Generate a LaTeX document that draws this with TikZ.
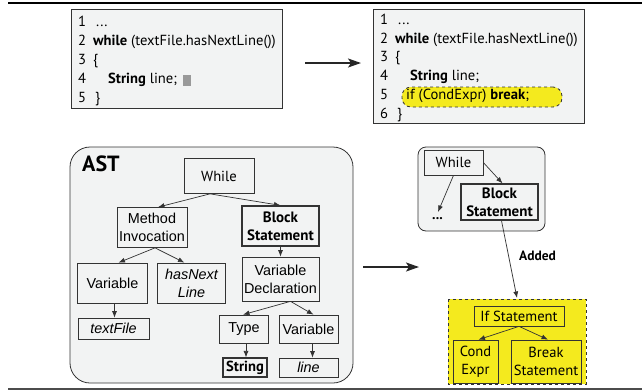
\documentclass[tikz,border=0pt]{standalone}
\usepackage{fontspec}
\setmainfont{PT Sans}
\newfontfamily\arialf{Liberation Sans}
\usetikzlibrary{arrows.meta}
\definecolor{panel}{HTML}{F2F3F3}
\definecolor{edge}{HTML}{333333}
\definecolor{hl}{HTML}{F4EA1E}
\tikzset{
  codebox/.style={draw=edge, fill=panel, line width=0.8pt},
  codeline/.style={anchor=base west, inner sep=0pt, font=\fontsize{14.6}{17}\selectfont},
  lnum/.style={anchor=base west, inner sep=0pt, font=\fontsize{14.6}{17}\selectfont},
  tnode/.style={draw=edge, fill=panel, line width=0.7pt, inner sep=0pt, align=center,
    font=\arialf\fontsize{14.4}{17.7}\selectfont},
  inode/.style={tnode, font=\arialf\itshape\fontsize{14.4}{17.7}\selectfont},
  mnode/.style={tnode, font=\fontsize{14.6}{17.7}\selectfont},
  bnode/.style={tnode, line width=1.2pt, font=\bfseries\fontsize{15}{17.7}\selectfont},
  ynode/.style={draw=edge, fill=hl, line width=0.7pt, inner sep=0pt, align=center,
    font=\fontsize{14.6}{17.7}\selectfont},
  tarrow/.style={draw=edge, line width=0.7pt, -{Latex[length=6.5pt,width=5pt]}},
  bigarrow/.style={draw=black!85, line width=1.8pt, -{Stealth[length=13pt,width=9pt,inset=3pt]}},
}
\begin{document}
\begin{tikzpicture}[x=1pt,y=-1pt]
\useasboundingbox (0,0) rectangle (642,391);

% rules above and below
\draw[black, line width=1.1pt] (8,3) -- (642,3);
\draw[black!70, line width=1.4pt] (8,389) -- (642,389);

% ---------- source before the edit ----------
\draw[codebox] (71,9) rectangle (282,108);
\foreach \n/\y in {1/26.5,2/45.5,3/64.5,4/83.5,5/102.5}
  \node[lnum] (la\n) at (78,\y) {\n};
\node[codeline] (ca1) at (96,26.5) {...};
\node[codeline] (ca2) at (93,45.5) {\textbf{while} (textFile.hasNextLine())};
\node[codeline] (ca3) at (93,64.5) {\{};
\node[codeline] (ca4) at (108,83.5) {\textbf{String} line;};
\node[codeline] (ca5) at (95,102.5) {\}};
\fill[black!40] ([xshift=6pt,yshift=-2pt]ca4.base east) rectangle ++(7.5,-10.5);

% ---------- source after the edit ----------
\draw[codebox] (373,9) rectangle (584,123);
\node[draw=edge, dashed, fill=hl, line width=0.8pt, rounded corners=9pt,
      minimum width=160pt, minimum height=20pt] (hlbox) at (482,97) {};
\foreach \n/\y in {1/24.5,2/43.2,3/61.9,4/80.6,5/99.8,6/118}
  \node[lnum] (lb\n) at (380,\y) {\n};
\node[codeline] (cb1) at (398,24.5) {...};
\node[codeline] (cb2) at (395,43.2) {\textbf{while} (textFile.hasNextLine())};
\node[codeline] (cb3) at (395,61.9) {\{};
\node[codeline] (cb4) at (410,80.6) {\textbf{String} line;};
\node[codeline] (cb5) at (406,99.8) {if (CondExpr) \textbf{break};};
\node[codeline] (cb6) at (397,118) {\}};

\coordinate (a1s) at (305,63);
\coordinate (a1e) at (361,63);
\draw[bigarrow] (a1s) -- (a1e);

% ---------- the full tree ----------
\draw[codebox, rounded corners=20pt] (70,147) rectangle (353,383);
\node[anchor=base west, inner sep=0pt, font=\bfseries\fontsize{22}{24}\selectfont] (astlbl) at (82,171.5) {AST};

\node[mnode, minimum width=70pt, minimum height=35pt] (while) at (219,176) {While};
\node[tnode, minimum width=70pt, minimum height=40pt] (minv) at (152,227.5) {Method\\Invocation};
\node[bnode, minimum width=77pt, minimum height=40pt] (block) at (280.5,226) {Block\\Statement};
\node[tnode, minimum width=70pt, minimum height=40pt] (var1) at (112.5,283) {Variable};
\node[inode, minimum width=68pt, minimum height=40pt] (hasn) at (191.5,283) {hasNext\\Line};
\node[inode, minimum width=71pt, minimum height=21pt] (tfile) at (113.5,328.5) {textFile};
\node[tnode, minimum width=77pt, minimum height=44pt] (vdecl) at (280.5,279) {Variable\\Declaration};
\node[tnode, minimum width=49pt, minimum height=28pt] (type) at (244,329) {Type};
\node[tnode, minimum width=59pt, minimum height=28pt] (var2) at (308.5,329) {Variable};
\node[tnode, minimum width=44pt, minimum height=19pt, line width=1.2pt, font=\bfseries\fontsize{14.6}{17}\selectfont] (str) at (245,367.5) {String};
\node[inode, minimum width=59pt, minimum height=19pt] (lnode) at (308.5,367.5) {line};

\draw[tarrow] ([xshift=-9pt]while.south) -- ([xshift=6pt]minv.north);
\draw[tarrow] ([xshift=-9pt]while.south) -- (block.north);
\draw[tarrow] ([xshift=3pt]minv.south) -- ([xshift=6pt]var1.north);
\draw[tarrow] ([xshift=3pt]minv.south) -- ([xshift=-7pt]hasn.north);
\draw[tarrow] (block.south) -- (vdecl.north);
\draw[tarrow] ([xshift=10pt]vdecl.south) -- ([xshift=-1pt]type.north);
\draw[tarrow] ([xshift=10pt]vdecl.south) -- ([xshift=5pt]var2.north);
\draw[tarrow] ([xshift=2pt]var1.south) -- ([xshift=1pt]tfile.north);
\draw[tarrow] ([xshift=2pt]type.south) -- ([xshift=1pt]str.north);
\draw[tarrow] ([xshift=4pt]var2.south) -- ([xshift=4pt]lnode.north);

\coordinate (a2s) at (363,267);
\coordinate (a2e) at (419,267);
\draw[bigarrow] (a2s) -- (a2e);

% ---------- the changed part of the tree ----------
\draw[codebox, rounded corners=8pt] (418,147) rectangle (545,231);
\node[mnode, minimum width=59pt, minimum height=25pt] (rwhile) at (453.5,162.5) {While};
\node[bnode, minimum width=77pt, minimum height=36pt] (rblock) at (499.5,202) {Block\\Statement};
\node[inner sep=0pt, font=\bfseries\fontsize{14}{16}\selectfont] (dots) at (437.5,219) {...};
\coordinate (dotsin) at (438,212);
\draw[tarrow] (rwhile.south) -- (dotsin);
\draw[tarrow] ([yshift=0pt]rwhile.east) -- ([xshift=3pt]rblock.north);

\draw[draw=edge, dashed, fill=hl, line width=0.8pt] (448,299) rectangle (586,384);
\node[ynode, minimum width=90pt, minimum height=20pt] (ifst) at (519,316) {If Statement};
\node[ynode, minimum width=45pt, minimum height=43pt] (cond) at (475.5,361.5) {Cond\\Expr};
\node[ynode, minimum width=70pt, minimum height=43pt] (brk) at (546,361.5) {Break\\Statement};
\draw[tarrow] (ifst.south) -- ([xshift=3pt]cond.north);
\draw[tarrow] (ifst.south) -- ([xshift=2pt]brk.north);

\coordinate (ifin) at (517,298);
\draw[tarrow] ([xshift=2pt]rblock.south) -- (ifin)
  node[pos=0.45, right=7pt, font=\bfseries\fontsize{13.5}{15}\selectfont] {Added};
\end{tikzpicture}
\end{document}
